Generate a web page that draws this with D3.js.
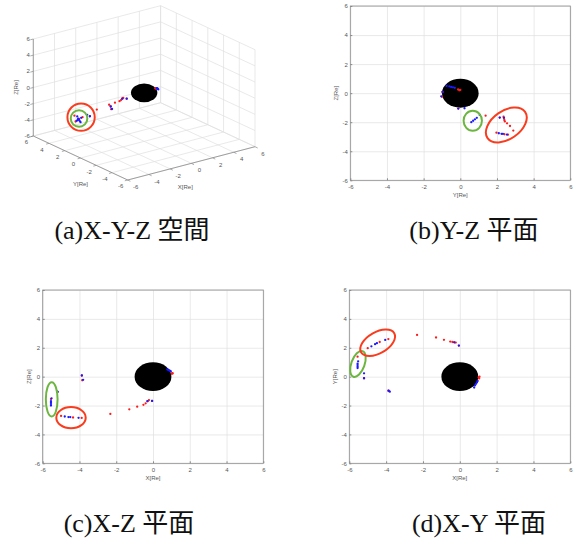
<!DOCTYPE html>
<html><head><meta charset="utf-8">
<script src="https://cdn.jsdelivr.net/npm/d3@7"></script>
<style>body{margin:0;background:#fff}</style>
</head><body>
<svg id="chart" width="574" height="538"></svg>
<script>
// ---------------- data ----------------
const tickValues = [-6, -4, -2, 0, 2, 4, 6];
const tickLabels = ["-6", "-4", "-2", "0", "2", "4", "6"];
const axisNames = { x: "X[Re]", y: "Y[Re]", z: "Z[Re]" };
const captions = ["(a)X-Y-Z 空間", "(b)Y-Z 平面", "(c)X-Z 平面", "(d)X-Y 平面"];
const earthRadius = 1;

// red markers [X, Y, Z] in Re
const redPoints = [
  [-5.55, 1.38, -1.55],
  [-5.2, -0.11, -1.06],
  [-5.0, 1.97, -2.72],
  [-4.35, 2.4, -2.83],
  [-3.88, 2.6, -2.86],
  [-3.87, -0.97, 0.08],
  [-3.85, -1.0, -0.25],
  [-2.32, 2.89, -2.58],
  [-1.29, 2.71, -2.26],
  [-0.86, 2.55, -2.08],
  [-0.52, 2.43, -1.95],
  [-0.4, 2.4, -1.85],
  [-0.3, 2.38, -1.7],
  [-0.22, 2.36, -1.62],
  [-0.05, 2.15, -1.68],
  [1.05, -0.12, 0.25],
  [1.02, -0.05, 0.2],
  [1.07, 0.0, 0.22]
];
// blue markers [X, Y, Z] in Re
const bluePoints = [
  [-5.55, 0.6, -2.0],
  [-5.55, 0.7, -1.9],
  [-5.55, 0.8, -1.8],
  [-5.55, 0.9, -1.7],
  [-5.52, 1.06, -1.5],
  [-5.2, 0.23, -1.04],
  [-5.2, -0.11, -1.06],
  [-4.8, 2.1, -2.76],
  [-4.6, 2.25, -2.8],
  [-4.5, 2.32, -2.8],
  [-4.05, 2.54, -2.85],
  [-3.87, -0.97, 0.08],
  [-3.8, -1.04, -0.22],
  [-0.3, 2.38, -1.7],
  [-0.05, 2.15, -1.68],
  [0.78, -0.75, 0.5],
  [0.83, -0.6, 0.47],
  [0.88, -0.5, 0.43],
  [0.93, -0.4, 0.4],
  [0.97, -0.3, 0.37]
];
// highlight rings: centre in Re, semi-axes in Re, tilt in degrees
const rings3d = [
  { c: [-4.24, 2.3, -2.6], r: 1.25, kind: "red" },
  { c: [-5.47, 0.9, -1.7], r: 0.76, kind: "green" }
];
const ringsYZ = [
  { c: [0.68, -1.9], rx: 0.5, ry: 0.69, tilt: 0, kind: "green" },
  { c: [2.51, -2.19], rx: 1.25, ry: 0.97, tilt: -35, kind: "red" }
];
const ringsXZ = [
  { c: [-5.51, -1.57], rx: 0.32, ry: 1.19, tilt: 0, kind: "green" },
  { c: [-4.46, -2.84], rx: 0.8, ry: 0.73, tilt: 0, kind: "red" }
];
const ringsXY = [
  { c: [-5.53, 0.88], rx: 0.36, ry: 0.94, tilt: 20, kind: "green" },
  { c: [-4.46, 2.35], rx: 1.04, ry: 0.73, tilt: -30, kind: "red" }
];

// ---------------- style ----------------
const ringColor = { red: "#fa3c1e", green: "#6cb640" };
const markerColor = { red: "#ff1a1a", blue: "#1a1aff" };
const markerR = 1.15;
const gridColor = "#e0e0e0";
const axisColor = "#8a8a8a";
const textColor = "#555";
const tickFont = "Liberation Sans, Arial, sans-serif";
const captionFont = "'Liberation Serif', 'Times New Roman', 'Noto Sans CJK JP', serif";

const svg = d3.select("#chart");
svg.append("rect").attr("width", 574).attr("height", 538).attr("fill", "#fff");

// ---------------- 2-D panels ----------------
const idx = { x: 0, y: 1, z: 2 };
const panels = [
  { h: "y", v: "z", xr: [350.3, 570.3], yr: [180.3, 6], rings: ringsYZ },
  { h: "x", v: "z", xr: [42.7, 263.3], yr: [463.3, 290], rings: ringsXZ },
  { h: "x", v: "y", xr: [349.3, 570.3], yr: [463.3, 290], rings: ringsXY }
];

function styleAxisText(sel) {
  sel.selectAll("text").attr("fill", textColor).attr("font-size", 6).attr("font-family", tickFont);
}

panels.forEach(p => {
  const xs = d3.scaleLinear().domain([-6, 6]).range(p.xr);
  const ys = d3.scaleLinear().domain([-6, 6]).range(p.yr);
  const g = svg.append("g");
  const H = p.yr[0] - p.yr[1], W = p.xr[1] - p.xr[0];

  // grid
  g.append("g").attr("transform", `translate(0,${p.yr[0]})`)
    .call(d3.axisBottom(xs).tickValues(tickValues).tickSize(-H).tickFormat(""))
    .call(s => { s.select(".domain").remove(); s.selectAll("line").attr("stroke", gridColor).attr("stroke-width", 0.7); });
  g.append("g").attr("transform", `translate(${p.xr[0]},0)`)
    .call(d3.axisLeft(ys).tickValues(tickValues).tickSize(-W).tickFormat(""))
    .call(s => { s.select(".domain").remove(); s.selectAll("line").attr("stroke", gridColor).attr("stroke-width", 0.7); });

  // box
  g.append("rect").attr("x", p.xr[0]).attr("y", p.yr[1]).attr("width", W).attr("height", H)
    .attr("fill", "none").attr("stroke", axisColor).attr("stroke-width", 0.8);

  // axes
  g.append("g").attr("transform", `translate(0,${p.yr[0]})`)
    .call(d3.axisBottom(xs).tickValues(tickValues).tickFormat((d, i) => tickLabels[i]).tickSize(-2).tickPadding(4.5))
    .call(s => { s.select(".domain").remove(); s.selectAll("line").attr("stroke", axisColor); styleAxisText(s); });
  g.append("g").attr("transform", `translate(${p.xr[0]},0)`)
    .call(d3.axisLeft(ys).tickValues(tickValues).tickFormat((d, i) => tickLabels[i]).tickSize(-2).tickPadding(2.5))
    .call(s => { s.select(".domain").remove(); s.selectAll("line").attr("stroke", axisColor); styleAxisText(s); });

  // axis names
  g.append("text").attr("x", xs(0)).attr("y", p.yr[0] + 16.5).attr("text-anchor", "middle")
    .attr("font-size", 6).attr("font-family", tickFont).attr("fill", textColor).text(axisNames[p.h]);
  g.append("text").attr("transform", `translate(${p.xr[0] - 12},${ys(0)}) rotate(-90)`).attr("text-anchor", "middle")
    .attr("font-size", 6).attr("font-family", tickFont).attr("fill", textColor).text(axisNames[p.v]);

  // earth
  g.append("ellipse").attr("cx", xs(0)).attr("cy", ys(0))
    .attr("rx", xs(earthRadius) - xs(0)).attr("ry", ys(0) - ys(earthRadius)).attr("fill", "#000");

  // markers
  const hi = idx[p.h], vi = idx[p.v];
  g.selectAll(".r").data(redPoints).join("circle").attr("cx", d => xs(d[hi])).attr("cy", d => ys(d[vi]))
    .attr("r", markerR).attr("fill", markerColor.red);
  g.selectAll(".b").data(bluePoints).join("circle").attr("cx", d => xs(d[hi])).attr("cy", d => ys(d[vi]))
    .attr("r", markerR).attr("fill", markerColor.blue);

  // rings
  g.selectAll(".ring").data(p.rings).join("ellipse")
    .attr("transform", d => `translate(${xs(d.c[0])},${ys(d.c[1])}) rotate(${d.tilt})`)
    .attr("rx", d => xs(d.rx) - xs(0)).attr("ry", d => ys(0) - ys(d.ry))
    .attr("fill", "none").attr("stroke", d => ringColor[d.kind]).attr("stroke-width", 2);
});

// ---------------- 3-D panel ----------------
const base = [127.7, 180]; // screen location of (-6,-6,-6)
const X1 = d3.scaleLinear().domain([-6, 6]).range([0, 127.3]);
const X2 = d3.scaleLinear().domain([-6, 6]).range([0, -33.3]);
const Y1 = d3.scaleLinear().domain([-6, 6]).range([0, -94.4]);
const Y2 = d3.scaleLinear().domain([-6, 6]).range([0, -44]);
const Z2 = d3.scaleLinear().domain([-6, 6]).range([0, -97]);
const proj = (x, y, z) => [base[0] + X1(x) + Y1(y), base[1] + X2(x) + Y2(y) + Z2(z)];

const g3 = svg.append("g");
const seg = (a, b, color, w) => {
  const p = proj(...a), q = proj(...b);
  g3.append("line").attr("x1", p[0]).attr("y1", p[1]).attr("x2", q[0]).attr("y2", q[1])
    .attr("stroke", color).attr("stroke-width", w);
};
tickValues.forEach(t => {
  seg([t, 6, -6], [t, 6, 6], gridColor, 0.7);
  seg([-6, 6, t], [6, 6, t], gridColor, 0.7);
  seg([6, t, -6], [6, t, 6], gridColor, 0.7);
  seg([6, -6, t], [6, 6, t], gridColor, 0.7);
  seg([t, -6, -6], [t, 6, -6], gridColor, 0.7);
  seg([-6, t, -6], [6, t, -6], gridColor, 0.7);
});
seg([-6, 6, -6], [-6, 6, 6], axisColor, 0.8);
seg([-6, 6, -6], [-6, -6, -6], axisColor, 0.8);
seg([-6, -6, -6], [6, -6, -6], axisColor, 0.8);

const txt = (x, y, s, anchor) => g3.append("text").attr("x", x).attr("y", y).attr("dy", "0.35em")
  .attr("text-anchor", anchor).attr("font-size", 6).attr("font-family", tickFont).attr("fill", textColor).text(s);

tickValues.forEach((t, i) => {
  let p = proj(-6, 6, t);
  g3.append("line").attr("x1", p[0]).attr("y1", p[1]).attr("x2", p[0] - 3).attr("y2", p[1] + 0.8).attr("stroke", axisColor).attr("stroke-width", 0.7);
  txt(p[0] - 3.5, p[1], tickLabels[i], "end");
  p = proj(-6, t, -6);
  g3.append("line").attr("x1", p[0]).attr("y1", p[1]).attr("x2", p[0] - 2.9).attr("y2", p[1] + 0.8).attr("stroke", axisColor).attr("stroke-width", 0.7);
  txt(p[0] - 7, p[1] + 6.3, tickLabels[i], "middle");
  p = proj(t, -6, -6);
  g3.append("line").attr("x1", p[0]).attr("y1", p[1]).attr("x2", p[0] + 2.7).attr("y2", p[1] + 1.3).attr("stroke", axisColor).attr("stroke-width", 0.7);
  txt(p[0] + 8, p[1] + 7, tickLabels[i], "middle");
});
{
  const py = proj(-6, 0, -6), px = proj(0, -6, -6), pz = proj(-6, 6, 0);
  txt(py[0], py[1] + 26, axisNames.y, "middle");
  txt(px[0] - 6, px[1] + 24, axisNames.x, "middle");
  g3.append("text").attr("transform", `translate(${pz[0] - 17},${pz[1]}) rotate(-90)`).attr("dy", "0.35em")
    .attr("text-anchor", "middle").attr("font-size", 6).attr("font-family", tickFont).attr("fill", textColor).text(axisNames.z);
}
{
  const c = proj(0, 0, 0);
  const ux = [X1(-5) - X1(-6), Y1(-5) - Y1(-6), 0];
  const uy = [X2(-5) - X2(-6), Y2(-5) - Y2(-6), Z2(-5) - Z2(-6)];
  const rx = Math.hypot(...ux) * earthRadius, ry = Math.hypot(...uy) * earthRadius;
  g3.append("ellipse").attr("cx", c[0]).attr("cy", c[1]).attr("rx", rx).attr("ry", ry).attr("fill", "#000");
}
g3.selectAll(".r3").data(redPoints).join("circle")
  .attr("cx", d => proj(...d)[0]).attr("cy", d => proj(...d)[1]).attr("r", markerR).attr("fill", markerColor.red);
g3.selectAll(".b3").data(bluePoints).join("circle")
  .attr("cx", d => proj(...d)[0]).attr("cy", d => proj(...d)[1]).attr("r", markerR).attr("fill", markerColor.blue);
g3.selectAll(".ring3").data(rings3d).join("circle")
  .attr("cx", d => proj(...d.c)[0]).attr("cy", d => proj(...d.c)[1])
  .attr("r", d => (X1(d.r) - X1(0)) * 1.03)
  .attr("fill", "none").attr("stroke", d => ringColor[d.kind]).attr("stroke-width", 2);

// ---------------- captions ----------------
const capPos = [[132, 239], [474, 239], [129, 532], [479, 532]];
svg.selectAll(".cap").data(captions).join("text")
  .attr("x", (d, i) => capPos[i][0]).attr("y", (d, i) => capPos[i][1])
  .attr("text-anchor", "middle").attr("font-size", 26).attr("font-family", captionFont)
  .attr("fill", "#111").text(d => d);
</script>
</body></html>
